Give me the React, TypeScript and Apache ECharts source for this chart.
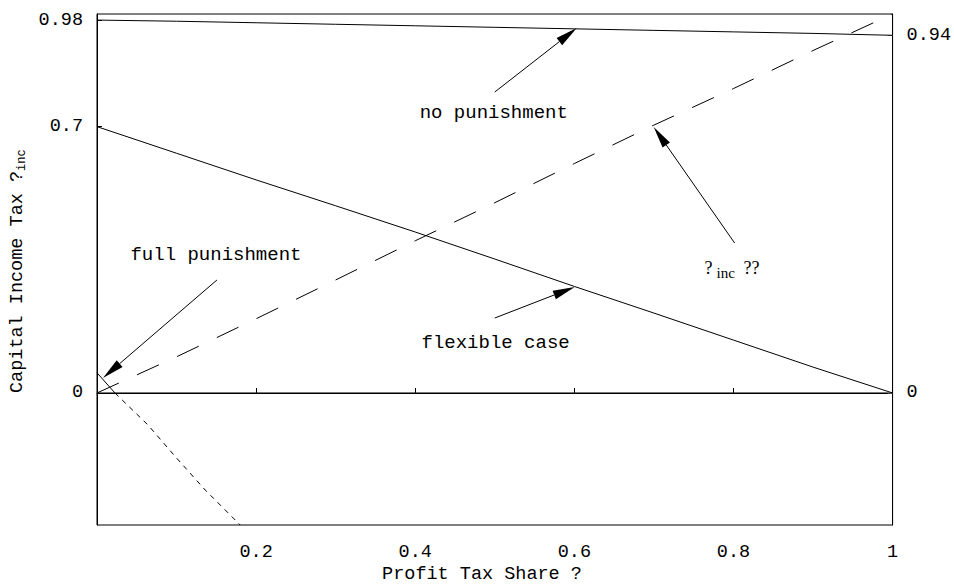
import React, { useEffect, useRef } from "react";
import * as echarts from "echarts";

// ---- data ----
const xs = [0, 0.1, 0.2, 0.3, 0.4, 0.5, 0.6, 0.7, 0.8, 0.9, 1.0];
const noPunishment = [0.98, 0.977, 0.973, 0.969, 0.965, 0.961, 0.957, 0.953, 0.949, 0.945, 0.94];
const flexibleCase = [0.7, 0.63, 0.56, 0.492, 0.423, 0.352, 0.28, 0.21, 0.139, 0.068, 0.0];
const tauInc = [0.0, 0.095, 0.195, 0.297, 0.4, 0.5, 0.603, 0.704, 0.8, 0.9, 0.996];
const fullPunishSolid = [
  [0, 0.053],
  [0.0226, 0],
];
const fullPunishDashed = [
  [0.0226, 0],
  [0.064, -0.084],
  [0.1, -0.171],
  [0.136, -0.255],
  [0.18, -0.347],
];
const zeroLine = [
  [0, 0],
  [1, 0],
];

const xTicks = [0.2, 0.4, 0.6, 0.8, 1];
const yLeftTicks = [0, 0.7, 0.98];
const yRightTicks = [0, 0.94];
const yMin = -0.347;
const yMax = 0.996;

const labelTexts = ["no punishment", "full punishment", "flexible case"];
const labelPos = [
  [0.4987, 0.7357],
  [0.1495, 0.3626],
  [0.501, 0.1314],
];
const tauLabelPos = [0.8, 0.328];

const arrowTails = [
  [0.5, 0.791],
  [0.8015, 0.394],
  [0.5, 0.197],
  [0.1508, 0.297],
];
const arrowHeads = [
  [0.603, 0.959],
  [0.6997, 0.699],
  [0.6005, 0.2785],
  [0.0075, 0.0394],
];

const MONO = "'Liberation Mono', 'DejaVu Sans Mono', monospace";
const SERIF = "'Liberation Serif', 'DejaVu Serif', serif";

export default function App() {
  const ref = useRef<HTMLDivElement>(null);

  useEffect(() => {
    document.body.style.margin = "0";
    if (!ref.current) return;
    const chart = echarts.init(ref.current, undefined, { renderer: "svg" });

    const lineStyleBase = { color: "#000", width: 1 };
    const arrowData = arrowTails.map((t, i) => [t[0], t[1], arrowHeads[i][0], arrowHeads[i][1]]);
    const labelData = labelPos.map((p, i) => [p[0], p[1], i]);

    const option: any = {
      animation: false,
      backgroundColor: "#fff",
      grid: {
        left: 97,
        right: 61,
        top: 14,
        bottom: 60,
        show: true,
        borderColor: "#000",
        borderWidth: 1,
        backgroundColor: "transparent",
      },
      xAxis: {
        type: "value",
        min: 0,
        max: 1,
        axisLine: { show: true, lineStyle: { color: "#000", width: 1 } },
        axisTick: { show: true, inside: true, length: 5, customValues: xTicks, lineStyle: { color: "#000" } },
        axisLabel: {
          customValues: xTicks,
          margin: 18,
          color: "#000",
          fontFamily: MONO,
          fontSize: 18.5,
          formatter: (v: number) => String(v),
        },
        splitLine: { show: false },
      },
      yAxis: [
        {
          type: "value",
          position: "left",
          min: yMin,
          max: yMax,
          axisLine: { show: true, lineStyle: { color: "#000", width: 1 } },
          axisTick: { show: true, inside: true, length: 5, customValues: yLeftTicks, lineStyle: { color: "#000" } },
          axisLabel: {
            customValues: yLeftTicks,
            margin: 14,
            color: "#000",
            fontFamily: MONO,
            fontSize: 18.5,
            formatter: (v: number) => String(v),
          },
          splitLine: { show: false },
        },
        {
          type: "value",
          position: "right",
          min: yMin,
          max: yMax,
          axisLine: { show: true, lineStyle: { color: "#000", width: 1 } },
          axisTick: { show: true, inside: true, length: 5, customValues: yRightTicks, lineStyle: { color: "#888" } },
          axisLabel: {
            customValues: yRightTicks,
            margin: 14,
            color: "#000",
            fontFamily: MONO,
            fontSize: 18.5,
            formatter: (v: number) => String(v),
          },
          splitLine: { show: false },
        },
      ],
      series: [
        {
          name: "zero",
          type: "line",
          data: zeroLine,
          showSymbol: false,
          lineStyle: lineStyleBase,
        },
        {
          name: "no punishment",
          type: "line",
          data: xs.map((x, i) => [x, noPunishment[i]]),
          showSymbol: false,
          lineStyle: lineStyleBase,
        },
        {
          name: "flexible case",
          type: "line",
          data: xs.map((x, i) => [x, flexibleCase[i]]),
          showSymbol: false,
          lineStyle: lineStyleBase,
        },
        {
          name: "tau inc",
          type: "line",
          data: xs.map((x, i) => [x, tauInc[i]]),
          showSymbol: false,
          lineStyle: { color: "#000", width: 1, type: [24, 20] },
        },
        {
          name: "full punishment",
          type: "line",
          data: fullPunishSolid,
          showSymbol: false,
          lineStyle: lineStyleBase,
        },
        {
          name: "full punishment (negative)",
          type: "line",
          data: fullPunishDashed,
          showSymbol: false,
          lineStyle: { color: "#000", width: 1, type: [5, 5] },
        },
        {
          name: "arrows",
          type: "custom",
          dimensions: ["x1", "y1", "x2", "y2"],
          encode: { x: [0, 2], y: [1, 3] },
          data: arrowData,
          renderItem: (params: any, api: any) => {
            const a = api.coord([api.value(0), api.value(1)]);
            const b = api.coord([api.value(2), api.value(3)]);
            const dx = b[0] - a[0];
            const dy = b[1] - a[1];
            const L = Math.hypot(dx, dy) || 1;
            const ux = dx / L;
            const uy = dy / L;
            const hl = 22;
            const hw = 4.5;
            const bx = b[0] - ux * hl;
            const by = b[1] - uy * hl;
            const px = -uy;
            const py = ux;
            return {
              type: "group",
              children: [
                {
                  type: "line",
                  shape: { x1: a[0], y1: a[1], x2: bx, y2: by },
                  style: { stroke: "#000", lineWidth: 1 },
                },
                {
                  type: "polygon",
                  shape: {
                    points: [
                      [b[0], b[1]],
                      [bx + px * hw, by + py * hw],
                      [bx - px * hw, by - py * hw],
                    ],
                  },
                  style: { fill: "#000" },
                },
              ],
            };
          },
        },
        {
          name: "labels",
          type: "custom",
          dimensions: ["x", "y", "i"],
          encode: { x: 0, y: 1 },
          data: labelData,
          renderItem: (params: any, api: any) => {
            const p = api.coord([api.value(0), api.value(1)]);
            const idx = api.value(2);
            return {
              type: "text",
              x: p[0],
              y: p[1],
              style: {
                text: labelTexts[idx],
                fontFamily: MONO,
                fontSize: 19,
                fill: "#000",
                align: "center",
                verticalAlign: "middle",
                textAlign: "center",
                textVerticalAlign: "middle",
              },
            };
          },
        },
        {
          name: "tau label",
          type: "custom",
          dimensions: ["x", "y"],
          encode: { x: 0, y: 1 },
          data: [tauLabelPos],
          renderItem: (params: any, api: any) => {
            const p = api.coord([api.value(0), api.value(1)]);
            const mk = (text: string, dx: number, dy: number, size: number) => ({
              type: "text",
              x: p[0] + dx,
              y: p[1] + dy,
              style: {
                text,
                fontFamily: SERIF,
                fontSize: size,
                fill: "#000",
                align: "left",
                verticalAlign: "middle",
                textAlign: "left",
                textVerticalAlign: "middle",
              },
            });
            return {
              type: "group",
              children: [mk("?", -29, 0, 18), mk("inc", -17, 5, 15), mk("??", 10, 0, 18)],
            };
          },
        },
      ],
      graphic: [
        {
          type: "group",
          x: 17.5,
          y: 271,
          rotation: Math.PI / 2,
          children: [
            {
              type: "text",
              x: -122,
              y: 0,
              style: {
                text: "Capital Income Tax ?",
                fontFamily: MONO,
                fontSize: 18.5,
                fill: "#000",
                align: "left",
                verticalAlign: "middle",
                textAlign: "left",
                textVerticalAlign: "middle",
              },
            },
            {
              type: "text",
              x: 100,
              y: 4,
              style: {
                text: "inc",
                fontFamily: MONO,
                fontSize: 12,
                fill: "#000",
                align: "left",
                verticalAlign: "middle",
                textAlign: "left",
                textVerticalAlign: "middle",
              },
            },
          ],
        },
        {
          type: "text",
          x: 482,
          y: 574,
          style: {
            text: "Profit Tax Share ?",
            fontFamily: MONO,
            fontSize: 18.5,
            fill: "#000",
            align: "center",
            verticalAlign: "middle",
            textAlign: "center",
            textVerticalAlign: "middle",
          },
        },
      ],
    };

    chart.setOption(option);
    return () => chart.dispose();
  }, []);

  return <div ref={ref} style={{ width: 954, height: 585 }} />;
}
